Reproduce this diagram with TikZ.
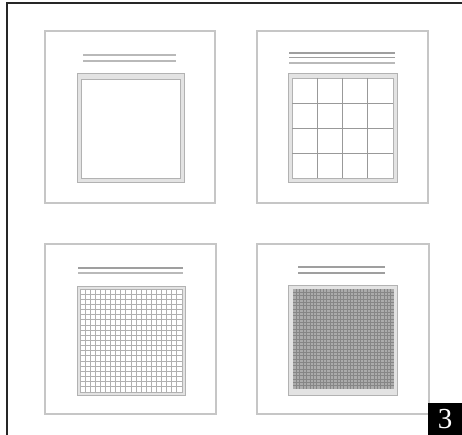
\documentclass[tikz,border=0pt]{standalone}
\usepackage{fontspec}
\setmainfont{Liberation Serif}
\begin{document}
\begin{tikzpicture}[x=1pt,y=-1pt,
  panel/.style={draw=gray!45, line width=1.3},
  framebox/.style={draw=gray!60, fill=gray!22, line width=0.6},
  innerbox/.style={draw=gray!60, fill=white, line width=0.6},
  txt/.style={draw=gray!55, line width=1.6},
  txtdark/.style={draw=gray!75, line width=1.6},
  coarse/.style={draw=gray!80, line width=0.9},
  fine/.style={draw=gray!62, line width=1.0},
  dense/.style={draw=gray!95, line width=0.55},
  badge/.style={fill=black, text=white, inner sep=0pt, minimum width=34pt, minimum height=32pt, anchor=north west, font=\fontsize{29}{29}\selectfont}]
\useasboundingbox (0,0) rectangle (462,435);
\fill[white] (0,0) rectangle (462,435);
% outer frame (top and left)
\draw[line width=1.2, gray!30!black] (7,435) -- (7,3) -- (462,3);

% ---------- Panel 1 ----------
\draw[panel] (45,31) rectangle (215,203);
\draw[txt] (83,55) -- (176,55);
\draw[txt] (83,61) -- (176,61);
\draw[framebox] (77,73) rectangle (184,182);
\draw[innerbox] (81,79) rectangle (180,178);

% ---------- Panel 2 ----------
\draw[panel] (257,31) rectangle (428,203);
\draw[txtdark] (289,53) -- (395,53);
\draw[txtdark] (289,57.5) -- (395,57.5);
\draw[txt] (289,63) -- (395,63);
\draw[framebox] (288,73) rectangle (397,182);
\draw[innerbox] (292,78) rectangle (393,178);
\foreach \i in {1,2,3} {
  \draw[coarse] ({292+\i*25.25},78) -- ({292+\i*25.25},178);
  \draw[coarse] (292,{78+\i*25}) -- (393,{78+\i*25});
}

% ---------- Panel 3 ----------
\draw[panel] (45,244) rectangle (216,414);
\draw[txtdark] (78,268) -- (183,268);
\draw[txt] (78,273) -- (183,273);
\draw[framebox] (77,286) rectangle (185,395);
\draw[innerbox] (80,289) rectangle (182,392);
\foreach \i in {1,...,19} {
  \draw[fine] ({80+\i*5.1},289) -- ({80+\i*5.1},392);
  \draw[fine] (80,{289+\i*5.15}) -- (182,{289+\i*5.15});
}

% ---------- Panel 4 ----------
\draw[panel] (257,244) rectangle (429,414);
\draw[txtdark] (298,267) -- (385,267);
\draw[txtdark] (298,273) -- (385,273);
\draw[framebox] (288,285) rectangle (397,395);
\fill[gray!66] (293,289) rectangle (394,389);
\foreach \i in {1,...,29} {
  \draw[dense] ({293+\i*3.367},289) -- ({293+\i*3.367},389);
  \draw[dense] (293,{289+\i*3.333}) -- (394,{289+\i*3.333});
}

% ---------- Badge ----------
\node[badge] (num) at (428,403) {3};
\end{tikzpicture}
\end{document}
